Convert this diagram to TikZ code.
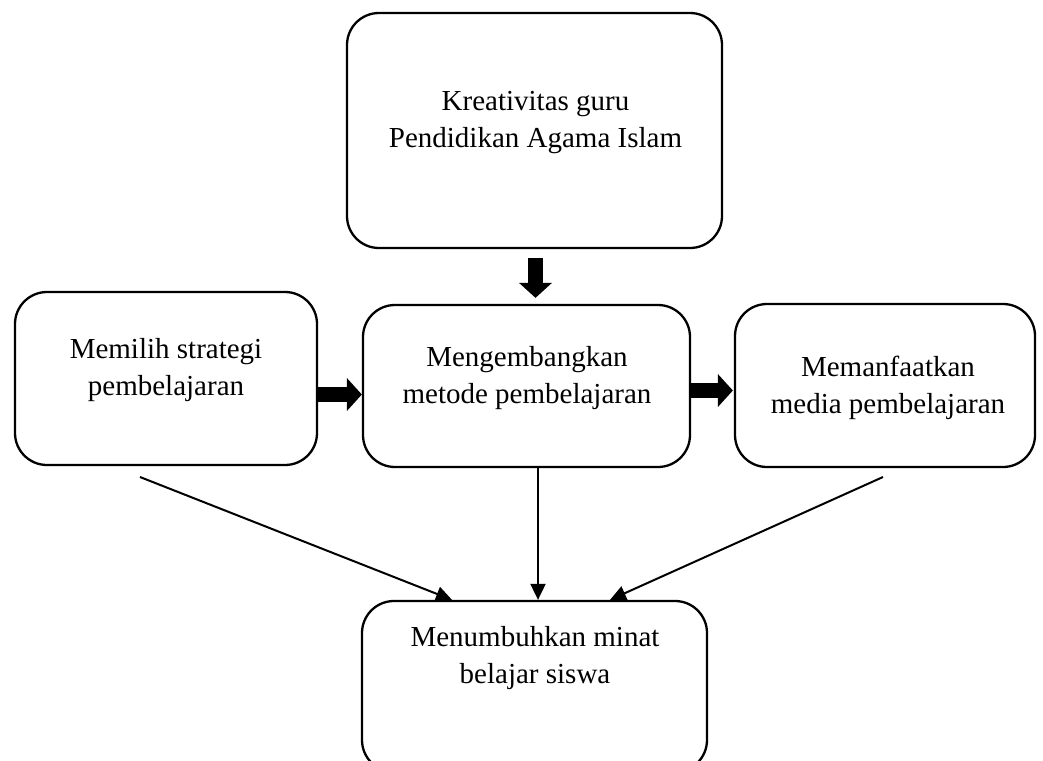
\documentclass[tikz,border=0pt]{standalone}
\usepackage{fontspec}
\setmainfont{Liberation Serif}
\usetikzlibrary{arrows.meta}
\begin{document}
\begin{tikzpicture}[x=1pt,y=-1pt,
  box/.style={draw, line width=2.3pt, rounded corners=32pt, inner sep=0pt},
  txt/.style={align=center, font={\fontsize{29}{37}\selectfont}, anchor=base, inner sep=0pt},
  blockarrow/.style={line width=15pt, -{Triangle[length=15pt,width=33pt,line width=0pt]}},
  thinarrow/.style={line width=2pt, -{Triangle[length=16pt,width=15pt]}}]
\clip (0,0) rectangle (1043,760);
\fill[white] (0,0) rectangle (1043,760);
% boxes
\node[box, minimum width=375pt, minimum height=235pt] (top) at (534.5,130.5) {};
\node[box, minimum width=302pt, minimum height=173pt] (left) at (166,378.5) {};
\node[box, minimum width=327pt, minimum height=162pt] (mid) at (526.5,386) {};
\node[box, minimum width=300pt, minimum height=163pt] (right) at (885,385.5) {};
\node[box, minimum width=345pt, minimum height=171pt] (bot) at (534.5,686.5) {};
% texts (anchor = baseline of the last line)
\node[txt] (toptxt) at (535.5,147) {Kreativitas guru\\Pendidikan Agama Islam};
\node[txt] (lefttxt) at (166,395) {Memilih strategi\\pembelajaran};
\node[txt] (midtxt) at (527,403) {Mengembangkan\\metode pembelajaran};
\node[txt] (righttxt) at (888,413) {Memanfaatkan\\media pembelajaran};
\node[txt] (bottxt) at (535,683) {Menumbuhkan minat\\belajar siswa};
% block arrows
\draw[blockarrow, shorten <=9pt, shorten >=6pt] (top.south -| 535.5,0) -- (mid.north -| 535.5,0);
\draw[blockarrow] (left.east |- 0,394.5) -- (mid.west |- 0,394.5);
\draw[blockarrow] (mid.east |- 0,390.5) -- ([xshift=-1pt]right.west |- 0,390.5);
% thin arrows
\coordinate (ls) at (140,477);
\coordinate (rs) at (883,477);
\draw[thinarrow] (ls) -- (bot.north -| 452,0);
\draw[thinarrow] (mid.south -| 538,0) -- (bot.north -| 538,0);
\draw[thinarrow] (rs) -- (bot.north -| 610,0);
\end{tikzpicture}
\end{document}
